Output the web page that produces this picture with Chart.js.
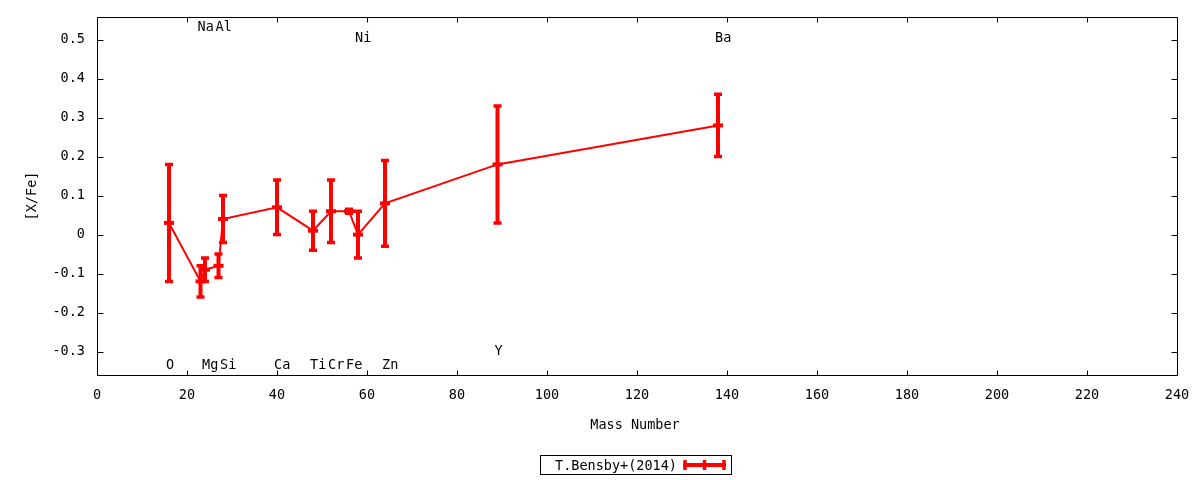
<!DOCTYPE html>
<html>
<head>
<meta charset="utf-8">
<script src="https://cdn.jsdelivr.net/npm/chart.js@4/dist/chart.umd.min.js"></script>
<style>
  html, body { margin: 0; padding: 0; background: #fff; }
  canvas { display: block; }
</style>
</head>
<body>
<canvas id="c" width="1200" height="480" style="width:1200px;height:480px"></canvas>
<script>
// ---- data ----
const elements   = ['O', 'Na', 'Mg', 'Al', 'Si', 'Ca', 'Ti', 'Cr', 'Fe', 'Ni', 'Zn', 'Y', 'Ba'];
const massNumber = [16, 23, 24, 27, 28, 40, 48, 52, 56, 58, 64, 89, 138];
const xFe        = [0.03, -0.12, -0.09, -0.08, 0.04, 0.07, 0.01, 0.06, 0.06, 0.00, 0.08, 0.18, 0.28];
const xFeErr     = [0.15, 0.04, 0.03, 0.03, 0.06, 0.07, 0.05, 0.08, 0.005, 0.06, 0.11, 0.15, 0.08];
const labelY     = [-0.332, 0.534, -0.332, 0.534, -0.332, -0.332, -0.332, -0.332, -0.332, 0.506, -0.332, -0.295, 0.506];
const xTicks      = [0, 20, 40, 60, 80, 100, 120, 140, 160, 180, 200, 220, 240];
const yTicks      = [-0.3, -0.2, -0.1, 0, 0.1, 0.2, 0.3, 0.4, 0.5];
const yTickLabels = ['-0.3', '-0.2', '-0.1', '0', '0.1', '0.2', '0.3', '0.4', '0.5'];
const seriesName  = 'T.Bensby+(2014)';
const xTitle = 'Mass Number';
const yTitle = '[X/Fe]';

const FONT = 'DejaVu Sans Mono';
const FSIZE = 13.5;
const RED = '#ff0000';

const decor = {
  id: 'decor',
  afterDatasetsDraw(chart) {
    const ctx = chart.ctx, xs = chart.scales.x, ys = chart.scales.y;
    ctx.save();
    ctx.strokeStyle = RED;
    ctx.lineCap = 'butt';
    for (let i = 0; i < massNumber.length; i++) {
      const px = xs.getPixelForValue(massNumber[i]);
      const pTop = ys.getPixelForValue(xFe[i] + xFeErr[i]);
      const pBot = ys.getPixelForValue(xFe[i] - xFeErr[i]);
      ctx.lineWidth = 4;
      ctx.beginPath();
      ctx.moveTo(px, pTop); ctx.lineTo(px, pBot);
      ctx.stroke();
      ctx.lineWidth = 3.5;
      ctx.beginPath();
      ctx.moveTo(px - 4, pTop); ctx.lineTo(px + 4, pTop);
      ctx.moveTo(px - 4, pBot); ctx.lineTo(px + 4, pBot);
      ctx.stroke();
    }
    ctx.restore();
  },
  afterDraw(chart) {
    const ctx = chart.ctx, xs = chart.scales.x, ys = chart.scales.y;
    const a = chart.chartArea;
    ctx.save();
    // frame
    ctx.strokeStyle = '#000';
    ctx.lineWidth = 1;
    const L = Math.round(a.left) + 0.5, R = Math.round(a.right) + 0.5;
    const T = Math.round(a.top) + 0.5, B = Math.round(a.bottom) + 0.5;
    ctx.beginPath();
    ctx.rect(L, T, R - L, B - T);
    // inward ticks
    xTicks.forEach(v => {
      const p = Math.round(xs.getPixelForValue(v)) + 0.5;
      ctx.moveTo(p, B); ctx.lineTo(p, B - 5);
      ctx.moveTo(p, T); ctx.lineTo(p, T + 5);
    });
    yTicks.forEach(v => {
      const p = Math.round(ys.getPixelForValue(v)) + 0.5;
      ctx.moveTo(L, p); ctx.lineTo(L + 6, p);
      ctx.moveTo(R, p); ctx.lineTo(R - 6, p);
    });
    ctx.stroke();

    // element labels
    ctx.fillStyle = '#000';
    ctx.font = FSIZE + 'px "' + FONT + '"';
    ctx.textAlign = 'left';
    ctx.textBaseline = 'alphabetic';
    for (let i = 0; i < elements.length; i++) {
      const px = xs.getPixelForValue(massNumber[i]) - 3;
      const py = ys.getPixelForValue(labelY[i]) + 5;
      ctx.fillText(elements[i], px, py);
    }

    // axis titles
    ctx.textAlign = 'center';
    ctx.textBaseline = 'middle';
    ctx.fillText(xTitle, (a.left + a.right) / 2 - 2, 425);
    ctx.save();
    ctx.translate(32, (a.top + a.bottom) / 2);
    ctx.rotate(-Math.PI / 2);
    ctx.fillText(yTitle, 0, 0);
    ctx.restore();

    // legend
    ctx.strokeStyle = '#000';
    ctx.lineWidth = 1;
    ctx.strokeRect(540.5, 455.5, 191, 19);
    ctx.textAlign = 'left';
    ctx.textBaseline = 'alphabetic';
    ctx.fillText(seriesName, 555, 470);
    ctx.strokeStyle = RED;
    ctx.lineWidth = 4;
    ctx.beginPath();
    ctx.moveTo(683, 465); ctx.lineTo(726, 465);
    ctx.stroke();
    ctx.lineWidth = 3.5;
    ctx.beginPath();
    [685, 704.5, 724].forEach(x => { ctx.moveTo(x, 460); ctx.lineTo(x, 470); });
    ctx.stroke();
    ctx.restore();
  }
};

new Chart(document.getElementById('c'), {
  type: 'scatter',
  data: {
    datasets: [{
      label: seriesName,
      data: massNumber.map((m, i) => ({ x: m, y: xFe[i] })),
      showLine: true,
      borderColor: RED,
      backgroundColor: RED,
      borderWidth: 2,
      pointStyle: 'line',
      pointRadius: 5,
      pointHoverRadius: 5,
      pointBorderWidth: 4,
      pointBorderColor: RED,
      tension: 0
    }]
  },
  options: {
    responsive: false,
    animation: false,
    events: [],
    layout: { padding: { left: 0, right: 23, top: 17, bottom: 0 } },
    plugins: { legend: { display: false }, tooltip: { enabled: false } },
    scales: {
      x: {
        type: 'linear', min: 0, max: 240,
        afterBuildTicks: s => { s.ticks = xTicks.map(v => ({ value: v })); },
        afterFit: s => { s.height = 105; s.paddingLeft = 0; s.paddingRight = 0; },
        grid: { display: false, drawTicks: false },
        border: { display: false },
        ticks: { color: '#000', padding: 12, maxRotation: 0, autoSkip: false,
                 font: { family: FONT, size: FSIZE } }
      },
      y: {
        type: 'linear', min: -0.36, max: 0.558,
        afterBuildTicks: s => { s.ticks = yTicks.map(v => ({ value: v })); },
        afterFit: s => { s.width = 97; s.paddingTop = 0; s.paddingBottom = 0; },
        grid: { display: false, drawTicks: false },
        border: { display: false },
        ticks: { color: '#000', padding: 12, autoSkip: false,
                 font: { family: FONT, size: FSIZE },
                 callback: (v) => { const k = yTicks.findIndex(t => Math.abs(t - v) < 1e-9); return k >= 0 ? yTickLabels[k] : ''; } }
      }
    }
  },
  plugins: [decor]
});
</script>
</body>
</html>
